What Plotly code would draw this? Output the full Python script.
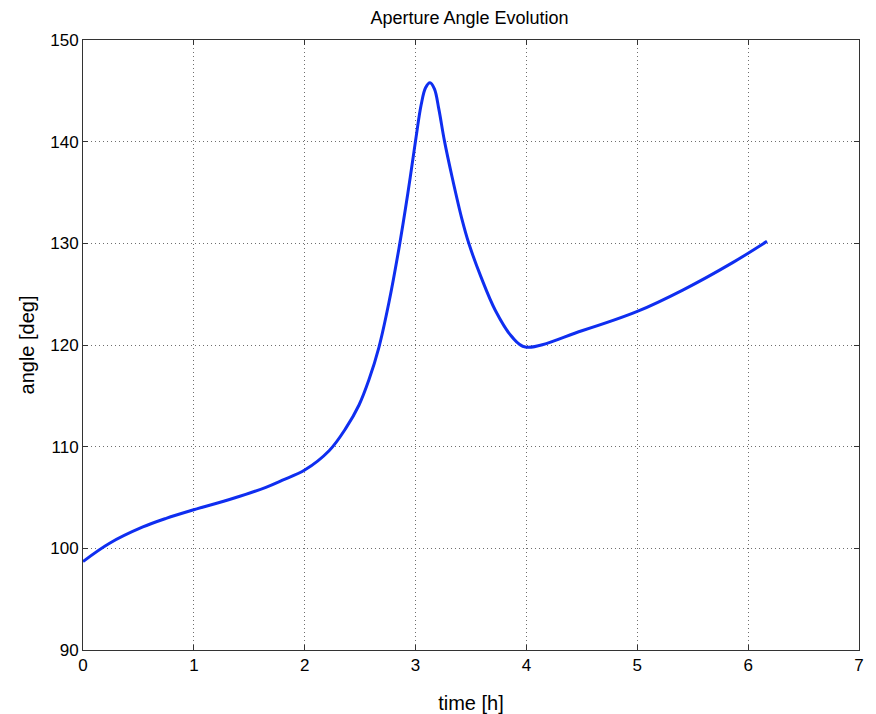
import plotly.graph_objects as go

time_h = [0.0, 0.24, 0.54, 0.75, 1.0, 1.35, 1.65, 1.8, 2.0, 2.22, 2.37, 2.49, 2.58, 2.67,
          2.76, 2.85, 2.93, 3.0, 3.05, 3.09, 3.13, 3.17, 3.21, 3.26, 3.33, 3.42, 3.48,
          3.59, 3.72, 3.87, 3.99, 4.5, 5.0, 5.41, 5.86, 6.17]
angle_deg = [98.7, 100.5, 102.1, 102.95, 103.8, 104.9, 106.0, 106.7, 107.7, 109.6, 111.8,
             114.1, 116.6, 119.8, 124.2, 129.5, 134.9, 140.1, 143.6, 145.3, 145.8, 145.2,
             143.2, 140.1, 136.5, 132.3, 130.0, 126.7, 123.4, 120.8, 119.8, 121.4, 123.3,
             125.4, 128.1, 130.2]

x_ticks = [0, 1, 2, 3, 4, 5, 6, 7]
y_ticks = [90, 100, 110, 120, 130, 140, 150]

font = "Liberation Sans, Arial, sans-serif"

fig = go.Figure()
fig.add_trace(go.Scatter(
    x=time_h, y=angle_deg, mode="lines",
    line=dict(color="#0f2ef0", width=3, shape="spline", smoothing=1.0),
    showlegend=False, hoverinfo="skip",
))

axis_common = dict(
    showgrid=True, gridcolor="#6e6e6e", griddash="1px,3px", gridwidth=1,
    showline=True, linecolor="#333333", linewidth=1, mirror="ticks",
    ticks="inside", ticklen=5, tickcolor="#333333",
    zeroline=False, tickfont=dict(family=font, size=17, color="#000000"),
    automargin=False,
)

fig.update_layout(
    width=876, height=714,
    margin=dict(l=83, r=17, t=40, b=64),
    paper_bgcolor="white", plot_bgcolor="white",
    title=dict(text="Aperture Angle Evolution", x=0.536, xanchor="center",
               y=0.975, yanchor="middle",
               font=dict(family=font, size=18, color="#000000")),
    xaxis=dict(range=[0, 7], tickvals=x_ticks, ticktext=[str(v) for v in x_ticks],
               title=dict(text="time [h]", font=dict(family=font, size=20, color="#000000"),
                          standoff=24),
               **axis_common),
    yaxis=dict(range=[90, 150], tickvals=y_ticks, ticktext=[str(v) for v in y_ticks],
               title=dict(text="angle [deg]", font=dict(family=font, size=20, color="#000000"),
                          standoff=10),
               **axis_common),
)

fig.write_html("out.html")
